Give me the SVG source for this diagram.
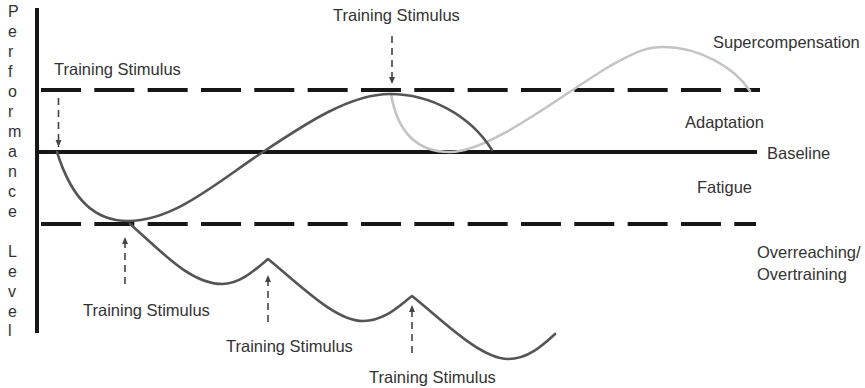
<svg xmlns="http://www.w3.org/2000/svg" width="865" height="388" viewBox="0 0 865 388">
<style>
text{font-family:"Liberation Sans",Arial,sans-serif;fill:#333}
.lbl{font-size:16.5px}
.axisl{font-size:16px}
.ax{stroke:#161616;stroke-width:4;fill:none}
.lim{stroke:#161616;stroke-width:4;fill:none;stroke-dasharray:40 13.33}
.dark{stroke:#555;stroke-width:2.6;fill:none;stroke-linecap:round;stroke-linejoin:round}
.light{stroke:#c4c4c4;stroke-width:2.6;fill:none;stroke-linecap:round}
.arr{stroke:#444;stroke-width:1.6;fill:none;stroke-dasharray:7 5;marker-end:url(#ah)}
</style>
<defs>
<marker id="ah" markerUnits="userSpaceOnUse" markerWidth="8" markerHeight="8" viewBox="0 0 8 8" refX="7" refY="4" orient="auto">
<path d="M0,1 L7,4 L0,7 z" fill="#444"/>
</marker>
</defs>
<g id="axis">
<line class="ax" x1="37" y1="8" x2="37" y2="333"/>
<text class="axisl" x="8"><tspan x="8" y="17">P</tspan><tspan x="8" y="36.5">e</tspan><tspan x="8" y="56.5">r</tspan><tspan x="8" y="76.5">f</tspan><tspan x="8" y="96.5">o</tspan><tspan x="8" y="116.5">r</tspan><tspan x="8" y="136.5">m</tspan><tspan x="8" y="156.5">a</tspan><tspan x="8" y="176.5">n</tspan><tspan x="8" y="196.5">c</tspan><tspan x="8" y="216.5">e</tspan><tspan x="8" y="256.5">L</tspan><tspan x="8" y="276.5">e</tspan><tspan x="8" y="296.5">v</tspan><tspan x="8" y="316.5">e</tspan><tspan x="8" y="336">l</tspan></text>
</g>
<g id="levels">
<line class="lim" x1="41" y1="90" x2="760" y2="90"/>
<line class="ax" x1="37" y1="152" x2="757" y2="152"/>
<line class="lim" x1="41" y1="224" x2="756" y2="224"/>
</g>
<g id="curves">
<path class="light" d="M391,94 C398,135 420,152 450,152 C490,152 560,96 610,66 C640,49 650,47 663,47 C700,47 735,68 750,91"/>
<path class="dark" d="M57,152 C72,200 95,221 128,221 C175,221 220,180 263,152 C305,124 350,94 390,94 C430,94 470,115 492,150"/>
<path class="dark" d="M130,224 C160,250 190,284 222,284 C240,284 255,270 268,259 C300,285 335,321 363,321 C385,321 400,305 412,296 C440,318 480,359 508,359 C528,359 543,345 555,334"/>
</g>
<g id="connectors">
<line class="arr" x1="58.5" y1="98" x2="58.5" y2="147"/>
<line class="arr" x1="392" y1="36" x2="392" y2="84"/>
<line class="arr" x1="125" y1="284" x2="125" y2="237"/>
<line class="arr" x1="268" y1="322" x2="268" y2="275"/>
<line class="arr" x1="412" y1="353" x2="412" y2="305"/>
</g>
<g id="labels">
<text class="lbl" x="54" y="75">Training Stimulus</text>
<text class="lbl" x="333" y="21">Training Stimulus</text>
<text class="lbl" x="83" y="316">Training Stimulus</text>
<text class="lbl" x="226" y="352">Training Stimulus</text>
<text class="lbl" x="369" y="383">Training Stimulus</text>
<text class="lbl" x="713" y="48">Supercompensation</text>
<text class="lbl" x="685" y="128">Adaptation</text>
<text class="lbl" x="767" y="159">Baseline</text>
<text class="lbl" x="697" y="193">Fatigue</text>
<text class="lbl" x="757" y="258">Overreaching/</text>
<text class="lbl" x="757" y="280">Overtraining</text>
</g>
</svg>
